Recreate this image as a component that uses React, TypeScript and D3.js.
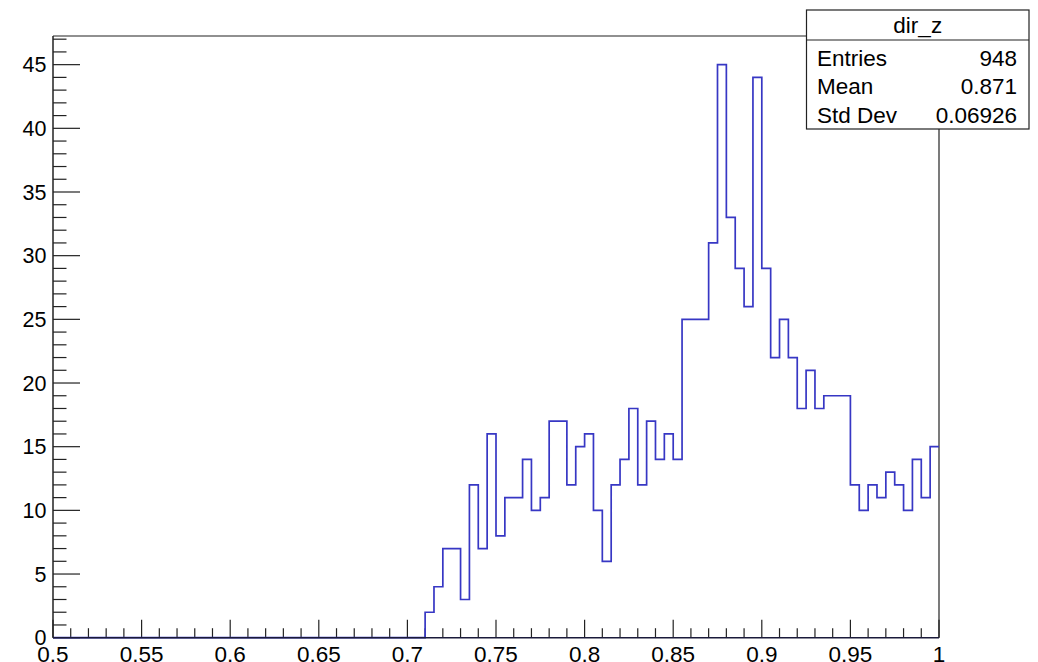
import React from "react";
import * as d3 from "d3";

// Histogram "dir_z": 100 bins over [0.5, 1.0]
const xMin = 0.5;
const xMax = 1.0;
const nBins = 100;
// bin contents for bins 42..99 (all earlier bins are empty)
const firstFilledBin = 42;
const filledCounts = [
  2, 4, 7, 7, 3, 12, 7, 16, 8, 11,
  11, 14, 10, 11, 17, 17, 12, 15, 16, 10,
  6, 12, 14, 18, 12, 17, 14, 16, 14, 25,
  25, 25, 31, 45, 33, 29, 26, 44, 29, 22,
  25, 22, 18, 21, 18, 19, 19, 19, 12, 10,
  12, 11, 13, 12, 10, 14, 11, 15,
];
const xTickLabels = ["0.5", "0.55", "0.6", "0.65", "0.7", "0.75", "0.8", "0.85", "0.9", "0.95", "1"];
const yTickValues = [0, 5, 10, 15, 20, 25, 30, 35, 40, 45];
const statsTitle = "dir_z";
const statsRows: [string, string][] = [
  ["Entries", "948"],
  ["Mean", "0.871"],
  ["Std Dev", "0.06926"],
];

const W = 1038;
const H = 662;
const frame = { left: 53, right: 939, top: 36, bottom: 637.7 };
const font = "'Liberation Sans', Arial, Helvetica, sans-serif";

export default function App() {
  const counts: number[] = Array.from({ length: nBins }, (_, i) =>
    i >= firstFilledBin ? filledCounts[i - firstFilledBin] : 0
  );
  const maxCount = d3.max(counts) as number;
  const x = d3.scaleLinear().domain([xMin, xMax]).range([frame.left, frame.right]);
  const y = d3.scaleLinear().domain([0, maxCount * 1.05]).range([frame.bottom, frame.top]);
  const bw = (xMax - xMin) / nBins;

  // step outline of the histogram
  const pts: [number, number][] = [];
  counts.forEach((c, i) => {
    const x0 = xMin + i * bw;
    pts.push([x(x0), y(c)]);
    pts.push([x(x0 + bw), y(c)]);
  });
  const line = d3.line<[number, number]>().x((d) => d[0]).y((d) => d[1]);
  const path = line(pts) as string;

  // x ticks: majors every 0.05, minors every 0.01
  const xMinor = d3.range(0, 51).map((k) => xMin + k * 0.01);
  // y ticks: majors every 5, minors every 1
  const yMax = maxCount * 1.05;
  const yMinor = d3.range(0, Math.floor(yMax) + 1);

  const stroke = "#222";
  const box = { x0: 806.5, x1: 1029, y0: 10, y1: 129, div: 40 };

  return (
    <div style={{ position: "absolute", left: 0, top: 0 }}>
      <svg width={W} height={H} style={{ display: "block", background: "#fff" }}>
        {/* frame */}
        <line x1={frame.left} x2={frame.right} y1={frame.top} y2={frame.top} stroke={stroke} strokeWidth={1.2} />
        <line x1={frame.right} x2={frame.right} y1={frame.top} y2={frame.bottom} stroke={stroke} strokeWidth={1.2} />

        {/* y axis */}
        {yMinor.map((v) => {
          const major = v % 5 === 0;
          return (
            <line key={"ym" + v} x1={frame.left} x2={frame.left + (major ? 27 : 13.5)} y1={y(v)} y2={y(v)} stroke={stroke} strokeWidth={1.2} />
          );
        })}
        {yTickValues.map((v) => (
          <text key={"yl" + v} x={46.5} y={y(v) + 7.6} textAnchor="end" fontFamily={font} fontSize={21.5} fill="#000">
            {v}
          </text>
        ))}

        {/* x axis */}
        {xMinor.map((v, k) => {
          const major = k % 5 === 0;
          return (
            <line key={"xm" + k} x1={x(v)} x2={x(v)} y1={frame.bottom} y2={frame.bottom - (major ? 18 : 9.5)} stroke={stroke} strokeWidth={1.2} />
          );
        })}
        {xTickLabels.map((lab, k) => (
          <text key={"xl" + k} x={x(xMin + k * 0.05)} y={661.5} textAnchor="middle" fontFamily={font} fontSize={22.5} fill="#000">
            {lab}
          </text>
        ))}

        {/* histogram */}
        <path d={path} fill="none" stroke="#3737c4" strokeWidth={1.7} />

        <line x1={frame.left} x2={frame.left} y1={frame.top} y2={frame.bottom} stroke={stroke} strokeWidth={1.5} />
        <line x1={frame.left} x2={frame.right} y1={frame.bottom} y2={frame.bottom} stroke="#1a1a3a" strokeWidth={1.5} />

        {/* statistics box */}
        <rect x={box.x0} y={box.y0} width={box.x1 - box.x0} height={box.y1 - box.y0} fill="#fff" stroke={stroke} strokeWidth={1.2} />
        <line x1={box.x0} x2={box.x1} y1={box.div} y2={box.div} stroke={stroke} strokeWidth={1.2} />
        <text x={(box.x0 + box.x1) / 2} y={32.5} textAnchor="middle" fontFamily={font} fontSize={22.5} fill="#000">
          {statsTitle}
        </text>
        {statsRows.map(([k, v], i) => (
          <g key={k}>
            <text x={817} y={65.5 + i * 28.5} fontFamily={font} fontSize={22.5} fill="#000">
              {k}
            </text>
            <text x={1017} y={65.5 + i * 28.5} textAnchor="end" fontFamily={font} fontSize={22.5} fill="#000">
              {v}
            </text>
          </g>
        ))}
      </svg>
    </div>
  );
}
